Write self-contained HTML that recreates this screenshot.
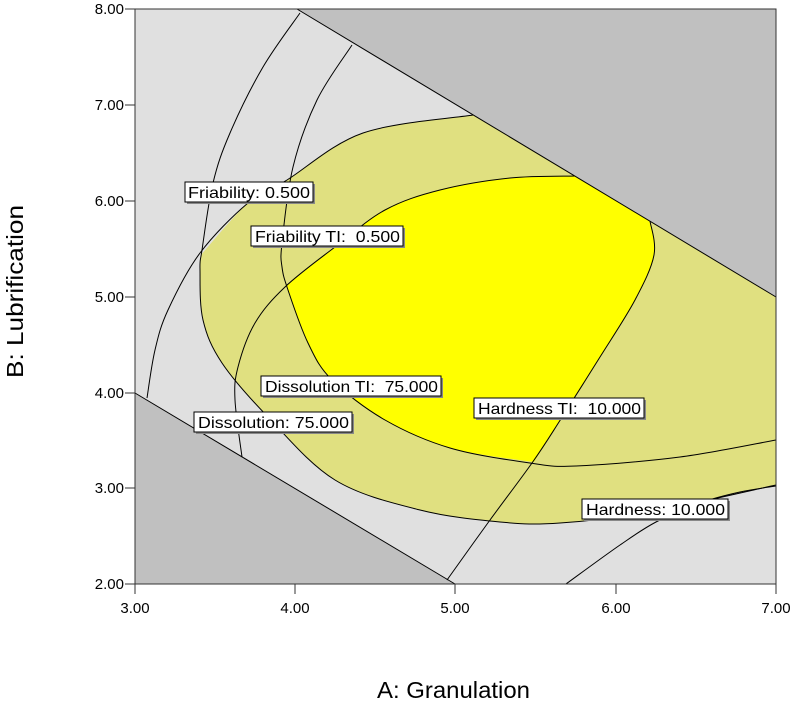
<!DOCTYPE html>
<html><head><meta charset="utf-8"><style>
body{margin:0;background:#fff}
svg text{font-family:"Liberation Sans",Arial,sans-serif}
</style></head><body>
<svg id="s" width="794" height="710" viewBox="0 0 794 710" xmlns="http://www.w3.org/2000/svg">
<rect x="135" y="9" width="641" height="575" fill="#e0e0e0"/>
<path id="khaki" fill="#e0e080"/>
<path id="lens" fill="#e0e0e0"/>
<path id="bright" fill="#ffff00"/>
<path d="M297,9 L776,9 L776,297 Z" fill="#c0c0c0"/>
<path d="M135,393 L455,584 L135,584 Z" fill="#c0c0c0"/>
<g id="lines" fill="none" stroke="#000" stroke-width="1" stroke-linejoin="round">
<path d="M297,9 L776,297"/>
<path d="M135,393 L455,584"/>
</g>
<rect x="135" y="9" width="641" height="575" fill="none" stroke="#333" stroke-width="1"/>
<g font-size="16" fill="#000">
<rect x="187" y="184" width="128" height="20" fill="#888"/><rect x="185" y="182" width="128" height="20" fill="#fff" stroke="#000"/>
<text x="188" y="198" textLength="122" lengthAdjust="spacingAndGlyphs">Friability: 0.500</text>
<rect x="253" y="228" width="152" height="20" fill="#888"/><rect x="251" y="226" width="152" height="20" fill="#fff" stroke="#000"/>
<text x="255" y="242" textLength="145" lengthAdjust="spacingAndGlyphs">Friability TI:&#160; 0.500</text>
<rect x="263" y="378" width="180" height="20" fill="#888"/><rect x="261" y="376" width="180" height="20" fill="#fff" stroke="#000"/>
<text x="265" y="392" textLength="173" lengthAdjust="spacingAndGlyphs">Dissolution TI:&#160; 75.000</text>
<rect x="196" y="414" width="158" height="20" fill="#888"/><rect x="194" y="412" width="158" height="20" fill="#fff" stroke="#000"/>
<text x="198" y="428" textLength="151" lengthAdjust="spacingAndGlyphs">Dissolution: 75.000</text>
<rect x="476" y="400" width="170" height="20" fill="#888"/><rect x="474" y="398" width="170" height="20" fill="#fff" stroke="#000"/>
<text x="478" y="414" textLength="163" lengthAdjust="spacingAndGlyphs">Hardness TI:&#160; 10.000</text>
<rect x="584" y="501" width="146" height="20" fill="#888"/><rect x="582" y="499" width="146" height="20" fill="#fff" stroke="#000"/>
<text x="586" y="515" textLength="139" lengthAdjust="spacingAndGlyphs">Hardness: 10.000</text>
</g>
<g stroke="#333" stroke-width="1">
<path d="M135,584V594M295,584V594M455,584V594M616,584V594M776,584V594"/>
<path d="M125,9H135M125,105H135M125,201H135M125,297H135M125,393H135M125,488H135M125,584H135"/>
</g>
<g font-size="15" fill="#000" text-anchor="middle">
<text x="135" y="613">3.00</text><text x="295" y="613">4.00</text><text x="455" y="613">5.00</text><text x="616" y="613">6.00</text><text x="776" y="613">7.00</text>
</g>
<g font-size="15" fill="#000" text-anchor="end">
<text x="124" y="14">8.00</text><text x="124" y="110">7.00</text><text x="124" y="206">6.00</text><text x="124" y="302">5.00</text><text x="124" y="398">4.00</text><text x="124" y="493">3.00</text><text x="124" y="589">2.00</text>
</g>
<text x="377" y="698" font-size="23" textLength="153" lengthAdjust="spacingAndGlyphs">A: Granulation</text>
<text x="0" y="0" font-size="23" textLength="173" lengthAdjust="spacingAndGlyphs" transform="translate(23,378) rotate(-90)">B: Lubrification</text>
</svg>
<script>
function sm(p){var d="M"+p[0][0]+","+p[0][1];
for(var i=0;i<p.length-1;i++){var a=p[i>0?i-1:i],b=p[i],c=p[i+1],e=p[i+2<p.length?i+2:i+1];
var c1=[b[0]+(c[0]-a[0])/6,b[1]+(c[1]-a[1])/6],c2=[c[0]-(e[0]-b[0])/6,c[1]-(e[1]-b[1])/6];
d+=" C"+c1[0].toFixed(1)+","+c1[1].toFixed(1)+" "+c2[0].toFixed(1)+","+c2[1].toFixed(1)+" "+c[0]+","+c[1];}
return d;}
function cont(p){return sm(p).replace(/^M[^ ]+/,"");}
var C1=[[300,13],[263,67],[230,133],[213,183],[202,250],[200,270],[203,320],[222,363],[268,417],[335,480],[420,510],[500,522],[560,523],[650,512],[776,485]];
var C2=[[147,398],[155,350],[168,310],[200,253],[248,203],[287,180],[363,133],[473,115]];
var C3=[[352,45],[317,100],[293,167],[282,243],[282,267],[288,290],[308,343],[332,380],[385,420],[450,448],[530,463],[576,466],[680,457],[776,440]];
var C4=[[242,457],[235,400],[238,367],[255,323],[285,287],[335,247],[385,210],[440,190],[510,178],[575,176]];
var HT=[[447,580],[490,520],[532,463],[559,422],[600,357],[635,300],[654,255],[650,221]];
var H=[[566,584],[620,545],[656,522],[700,503],[740,492],[776,486]];
var g=document.getElementById("lines"),ns="http://www.w3.org/2000/svg";
[C1,C2,C3,C4,HT,H].forEach(function(p){var e=document.createElementNS(ns,"path");e.setAttribute("d",sm(p));g.appendChild(e);});
var k="M201,255"+cont([[201,255],[248,203],[287,180],[363,133],[473,115]])+" L776,297 L776,485"+
cont([[776,485],[650,512],[560,523],[500,522],[420,510],[335,480],[268,417],[222,363],[203,320],[200,270],[201,255]])+" Z";
document.getElementById("khaki").setAttribute("d",k);
document.getElementById("lens").setAttribute("d",sm(H)+" L776,584 L566,584 Z");
var b="M575,176 L650,221"+cont([[650,221],[654,255],[635,300],[600,357],[559,422],[534,462]])+
cont([[534,462],[450,448],[385,420],[332,380],[308,343],[288,290],[286,286]])+
cont([[286,286],[335,247],[385,210],[440,190],[510,178],[575,176]])+" Z";
document.getElementById("bright").setAttribute("d",b);
</script>
</body></html>
